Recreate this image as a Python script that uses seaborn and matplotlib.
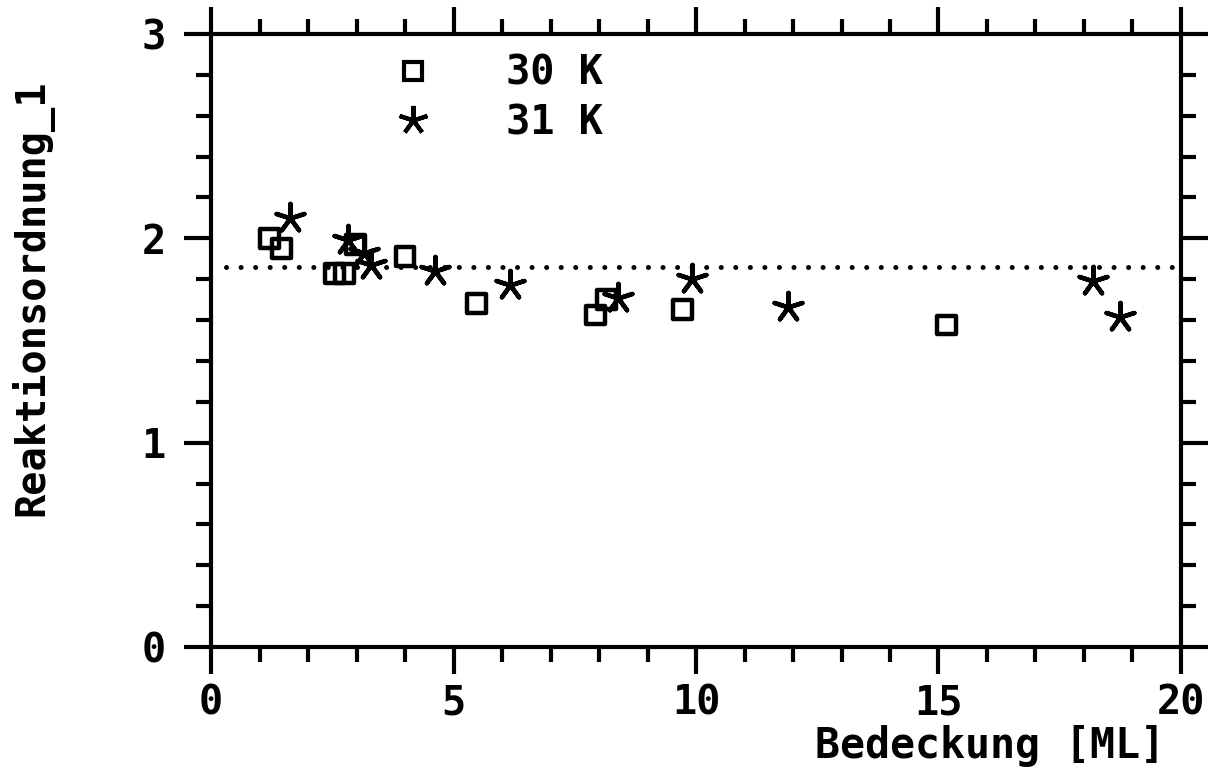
import matplotlib
matplotlib.use("Agg")
import matplotlib.pyplot as plt
from matplotlib.ticker import MultipleLocator
from matplotlib.lines import Line2D
import seaborn as sns

# Coverage [ML] and reaction order for the two temperatures
cov_30K = [1.20, 1.46, 2.55, 2.75, 2.97, 4.00, 5.48, 7.92, 8.16, 9.73, 15.17]
ord_30K = [2.00, 1.95, 1.83, 1.83, 1.97, 1.91, 1.68, 1.625, 1.70, 1.65, 1.576]

cov_31K = [1.63, 2.82, 3.15, 3.30, 4.62, 6.16, 8.40, 9.92, 11.90, 18.19, 18.74]
ord_31K = [2.10, 1.99, 1.93, 1.87, 1.84, 1.77, 1.71, 1.80, 1.665, 1.79, 1.615]

mean_order = 1.86
labels = ["30 K", "31 K"]

sns.set_theme(style="white")
plt.rcParams["font.family"] = ["DejaVu Sans Mono", "DejaVu Sans"]
plt.rcParams["font.weight"] = "bold"
plt.rcParams["text.color"] = "black"
plt.rcParams["axes.labelcolor"] = "black"
plt.rcParams["xtick.color"] = "black"
plt.rcParams["ytick.color"] = "black"

FS = 29

fig = plt.figure(figsize=(12.13, 7.75), dpi=100)
ax = fig.add_axes([0.174, 0.1652, 0.7996, 0.7909])

sns.scatterplot(x=cov_30K, y=ord_30K, ax=ax, marker="s", s=185,
                facecolor="none", edgecolor="black", linewidth=3.2, zorder=3)
sns.scatterplot(x=cov_31K, y=ord_31K, ax=ax, marker=(5, 2, 0), s=440,
                color="black", edgecolor="black", linewidth=3.2, zorder=3)

ax.plot([0.3, 20], [mean_order, mean_order], color="black", lw=3.6,
        linestyle=(0, (0.01, 2.9)), dash_capstyle="round", zorder=2)

ax.set_xlim(0, 20)
ax.set_ylim(0, 3)
ax.xaxis.set_major_locator(MultipleLocator(5))
ax.xaxis.set_minor_locator(MultipleLocator(1))
ax.yaxis.set_major_locator(MultipleLocator(1))
ax.yaxis.set_minor_locator(MultipleLocator(0.2))

for sp in ax.spines.values():
    sp.set_visible(True)
    sp.set_color("black")
    sp.set_linewidth(3)

ax.tick_params(which="both", direction="out", top=True, right=True,
               bottom=True, left=True, color="black", width=3,
               labeltop=False, labelright=False, labelcolor="black")
ax.tick_params(which="major", length=19.5, labelsize=FS)
ax.tick_params(which="minor", length=10.5)
ax.tick_params(axis="x", which="major", pad=7)
ax.tick_params(axis="y", which="major", pad=13)

ax.set_xlabel("Bedeckung [ML]", fontsize=30, fontweight="bold", ha="right",
              color="black")
ax.xaxis.set_label_coords(0.9835, -0.128)
ax.set_ylabel("Reaktionsordnung_1", fontsize=FS, fontweight="bold", color="black")
ax.yaxis.set_label_coords(-0.163, 0.57)

handles = [
    Line2D([], [], linestyle="", marker="s", markersize=13, markerfacecolor="none",
           markeredgecolor="black", markeredgewidth=3),
    Line2D([], [], linestyle="", marker=(5, 2, 0), markersize=21,
           color="black", markeredgewidth=3),
]
ax.legend(handles, labels, loc="center left", bbox_to_anchor=(0.1876, 0.8956),
          frameon=False, handlelength=1.0, handletextpad=1.8,
          labelspacing=0.25, borderpad=0, borderaxespad=0,
          prop={"family": "DejaVu Sans Mono", "weight": "bold", "size": FS})

fig.savefig("out.png", dpi=100)
